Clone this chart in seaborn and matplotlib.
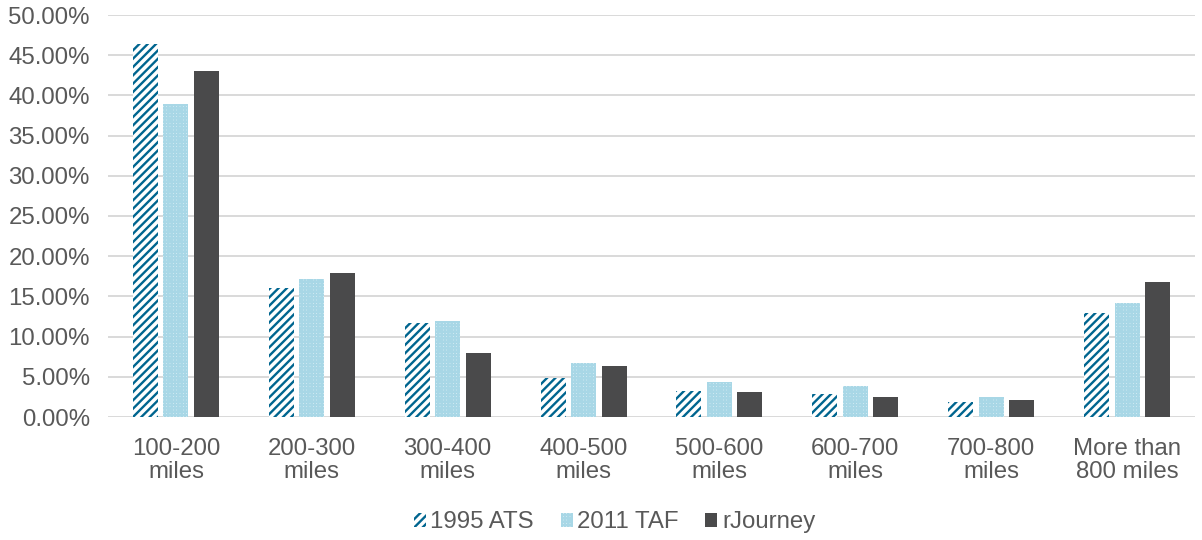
import pandas as pd
import matplotlib
matplotlib.use("Agg")
import matplotlib.pyplot as plt
import seaborn as sns
from matplotlib.ticker import PercentFormatter

# distance bands and share of trips per source
categories = ["100-200\nmiles", "200-300\nmiles", "300-400\nmiles", "400-500\nmiles",
              "500-600\nmiles", "600-700\nmiles", "700-800\nmiles", "More than\n800 miles"]
ats_1995 = [46.4, 16.1, 11.7, 4.9, 3.2, 2.8, 1.9, 12.9]
taf_2011 = [38.9, 17.2, 11.9, 6.7, 4.4, 3.9, 2.5, 14.2]
rjourney = [43.0, 17.9, 7.9, 6.4, 3.1, 2.5, 2.1, 16.8]
series = ["1995 ATS", "2011 TAF", "rJourney"]

df = pd.DataFrame({
    "band": categories * 3,
    "share": ats_1995 + taf_2011 + rjourney,
    "source": [s for s in series for _ in categories],
})

sns.set_style("white")
plt.rcParams["font.family"] = ["Liberation Sans", "DejaVu Sans"]
plt.rcParams["hatch.linewidth"] = 1.7

fig = plt.figure(figsize=(12.02, 5.40), dpi=100)
ax = fig.add_axes([108 / 1202, 1 - 417 / 540, 1087 / 1202, 402 / 540])

sns.barplot(data=df, x="band", y="share", hue="source", hue_order=series,
            palette=["#00658F", "#8CCADD", "#4A4A4B"], width=0.673, gap=0.18,
            legend=False, ax=ax, zorder=3)

# patterns like the original: blue stripes, light blue checks, solid grey
for bar in ax.containers[0]:
    bar.set_facecolor("white")
    bar.set_edgecolor("#00658F")
    bar.set_hatch("////")
    bar.set_linewidth(0)
for bar in ax.containers[1]:
    bar.set_facecolor("#E6F3F8")
    bar.set_edgecolor("#A8D7E6")
    bar.set_hatch("+++++")
    bar.set_linewidth(0)
for bar in ax.containers[2]:
    bar.set_facecolor("#4A4A4B")
    bar.set_edgecolor("#4A4A4B")
    bar.set_linewidth(0)

ax.set_ylim(0, 50)
ax.set_yticks(range(0, 51, 5))
ax.yaxis.set_major_formatter(PercentFormatter(decimals=2))
ax.grid(axis="y", color="#D9D9D9", linewidth=1.4, zorder=0)
ax.set_axisbelow(True)
for s in ax.spines.values():
    s.set_visible(False)
ax.set_xlabel("")
ax.set_ylabel("")
ax.tick_params(axis="both", length=0, labelsize=17.3, colors="#595959")
ax.tick_params(axis="y", pad=13)
ax.tick_params(axis="x", pad=15)
for lab in ax.get_xticklabels():
    lab.set_linespacing(1.08)

ax.legend(ax.containers, series, loc="center", bbox_to_anchor=(0.466, -0.262),
          ncol=3, frameon=False, fontsize=17.3, labelcolor="#595959",
          handlelength=0.5, handleheight=0.5, handletextpad=0.2, columnspacing=1.1)

fig.savefig("out.png", dpi=100)
